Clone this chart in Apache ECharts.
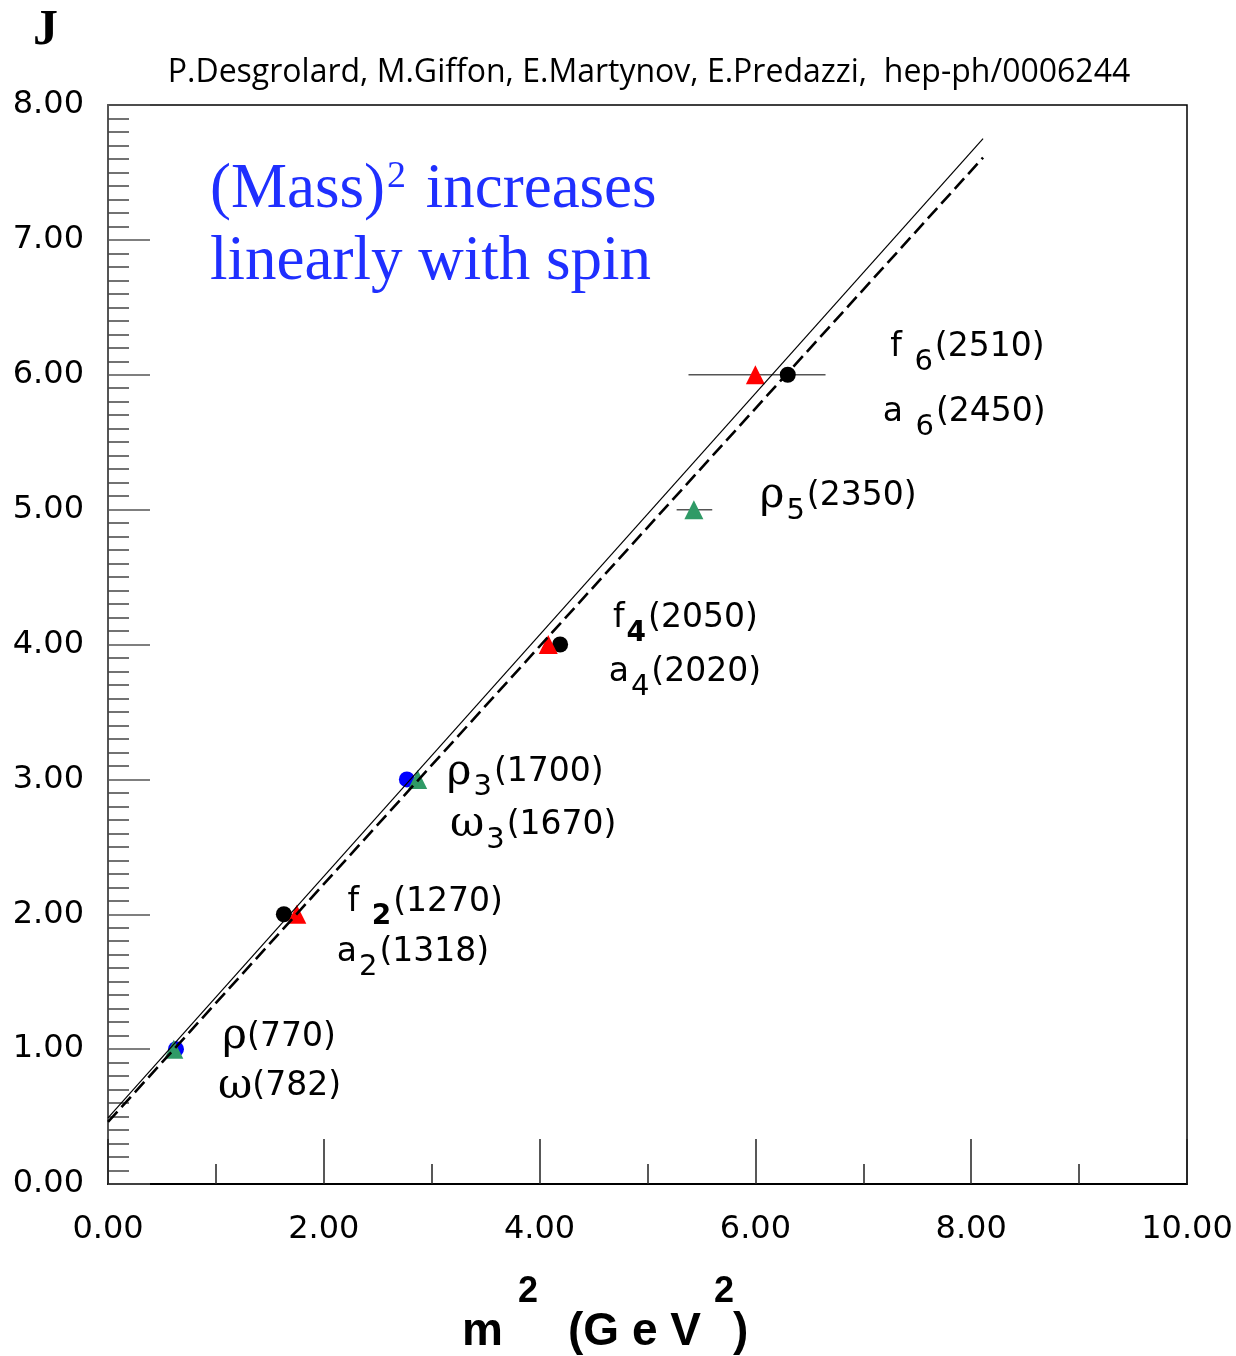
<!DOCTYPE html>
<html>
<head>
<meta charset="utf-8">
<script src="https://cdn.jsdelivr.net/npm/echarts@6/dist/echarts.min.js"></script>
<style>
  html, body { margin: 0; padding: 0; background: #fff; }
  #chart { width: 1236px; height: 1356px; }
</style>
</head>
<body>
<div id="chart"></div>
<script>
  // f mesons (black circles), a mesons (red triangles)
  var fPoints = [[1.63, 2], [4.19, 4], [6.30, 6]];
  var aPoints = [[1.75, 2], [4.08, 4], [6.00, 6]];
  // rho (green triangles), omega (blue circles)
  var rhoPoints = [[0.61, 1], [2.87, 3], [5.43, 5]];
  var omegaPoints = [[0.63, 1], [2.77, 3]];
  // horizontal error bars: [xLow, xHigh, y]
  var errorBars = [[5.27, 5.60, 5], [5.38, 6.65, 6]];
  // fitted trajectories
  var solidLine = [[0, 0.49], [8.11, 7.75]];
  var dashedLine = [[0, 0.46], [8.11, 7.61]];
  // particle labels: [x, y, rich text]
  var particleLabels = [
    [1.06, 1.09, '{g|ρ}{t|(770)}'],
    [1.02, 0.72, '{g|ω}{t|(782)}'],
    [2.22, 2.09, '{t|f }{sb|2}{t|(1270)}'],
    [2.12, 1.72, '{t|a}{s|2}{t|(1318)}'],
    [3.14, 3.05, '{g|ρ}{s|3}{t|(1700)}'],
    [3.17, 2.66, '{g|ω}{s|3}{t|(1670)}'],
    [4.68, 4.19, '{t|f}{sb|4}{t|(2050)}'],
    [4.64, 3.79, '{t|a}{s|4}{t|(2020)}'],
    [6.04, 5.10, '{g|ρ}{s|5}{t|(2350)}'],
    [7.25, 6.20, '{t|f }{s|6}{t|(2510)}'],
    [7.18, 5.72, '{t|a }{s|6}{t|(2450)}']
  ];

  var chart = echarts.init(document.getElementById('chart'));

  var labelFont = 'DejaVu Sans';

  var option = {
    backgroundColor: '#fff',
    animation: false,
    grid: {
      left: 108, top: 105, width: 1079, height: 1079,
      show: true, borderColor: '#000', borderWidth: 1.5, backgroundColor: 'transparent'
    },
    xAxis: {
      type: 'value', min: 0, max: 10, interval: 2,
      axisLine: { show: true, lineStyle: { color: '#000', width: 2 } },
      axisTick: { show: true, inside: true, length: 45, lineStyle: { color: '#222', width: 1.5 } },
      minorTick: { show: true, splitNumber: 2, length: 20, lineStyle: { color: '#222', width: 1.5 } },
      splitLine: { show: false },
      axisLabel: {
        margin: 30, fontFamily: labelFont, fontSize: 32, color: '#000',
        formatter: function (v) { return v.toFixed(2); }
      }
    },
    yAxis: {
      type: 'value', min: 0, max: 8, interval: 1,
      axisLine: { show: true, lineStyle: { color: '#555', width: 2 } },
      axisTick: { show: true, inside: true, length: 42, lineStyle: { color: '#555', width: 1.5 } },
      minorTick: { show: true, splitNumber: 10, length: 21, lineStyle: { color: '#444', width: 1.5 } },
      splitLine: { show: false },
      axisLabel: {
        margin: 24, fontFamily: labelFont, fontSize: 32, color: '#000', padding: [6, 0, 0, 0],
        formatter: function (v) { return v.toFixed(2); }
      }
    },
    series: [
      {
        type: 'custom', z: 1,
        renderItem: function (params, api) {
          var p1 = api.coord([api.value(0), api.value(2)]);
          var p2 = api.coord([api.value(1), api.value(2)]);
          return {
            type: 'line',
            shape: { x1: p1[0], y1: p1[1], x2: p2[0], y2: p2[1] },
            style: { stroke: '#555', lineWidth: 1.5 }
          };
        },
        data: errorBars
      },
      {
        type: 'scatter', z: 2, symbol: 'circle', symbolSize: 16,
        itemStyle: { color: '#0000ff', opacity: 1 }, data: omegaPoints
      },
      {
        type: 'scatter', z: 2, symbol: 'circle', symbolSize: 16,
        itemStyle: { color: '#000', opacity: 1 }, data: fPoints
      },
      {
        type: 'scatter', z: 3, symbol: 'triangle', symbolSize: 19,
        itemStyle: { color: '#2f9a66', opacity: 1 }, data: rhoPoints
      },
      {
        type: 'scatter', z: 3, symbol: 'triangle', symbolSize: 19,
        itemStyle: { color: '#ff0000', opacity: 1 }, data: aPoints
      },
      {
        type: 'line', z: 4, symbol: 'none', data: solidLine,
        lineStyle: { color: '#000', width: 1.2 }
      },
      {
        type: 'line', z: 4, symbol: 'none', data: dashedLine,
        lineStyle: { color: '#000', width: 2.6, type: [14, 6] }
      },
      {
        type: 'scatter', z: 5, symbolSize: 0, silent: true,
        itemStyle: { opacity: 1 },
        data: particleLabels.map(function (d) { return { value: [d[0], d[1]], txt: d[2] }; }),
        label: {
          show: true, position: 'inside', align: 'left', verticalAlign: 'middle', opacity: 1,
          formatter: function (p) { return p.data.txt; },
          rich: {
            t: { fontFamily: labelFont, fontSize: 33, color: '#000' },
            g: { fontFamily: 'DejaVu Serif', fontSize: 42, color: '#000' },
            s: { fontFamily: labelFont, fontSize: 29, color: '#000', padding: [30, 2, 0, 2] },
            sb: { fontFamily: labelFont, fontSize: 28, fontWeight: 'bold', color: '#000', padding: [30, 2, 0, 2] }
          }
        }
      }
    ],
    graphic: [
      {
        type: 'text', left: 33, top: 6,
        style: { text: 'J', font: 'bold 50px "Liberation Serif"', fill: '#000' }
      },
      {
        type: 'text', x: 649, y: 73,
        style: {
          text: 'P.Desgrolard, M.Giffon, E.Martynov, E.Predazzi,  hep-ph/0006244',
          font: '32px "Open Sans"', fill: '#000', align: 'center', verticalAlign: 'middle'
        }
      },
      {
        type: 'text', x: 210, y: 190,
        style: {
          text: '{b|(Mass)}{sp|2}{b| increases}',
          verticalAlign: 'middle',
          rich: {
            b: { font: '63px "Liberation Serif"', fill: '#1f2fff' },
            sp: { font: '38px "Liberation Serif"', fill: '#1f2fff', padding: [0, 4, 26, 2] }
          }
        }
      },
      {
        type: 'text', x: 210, y: 262,
        style: { text: 'linearly with spin', font: '63px "Liberation Serif"', fill: '#1f2fff', verticalAlign: 'middle' }
      },
      { type: 'text', x: 462, y: 1332, style: { text: 'm', font: 'bold 46px "Liberation Sans"', fill: '#000', verticalAlign: 'middle' } },
      { type: 'text', x: 518, y: 1292, style: { text: '2', font: 'bold 36px "Liberation Sans"', fill: '#000', verticalAlign: 'middle' } },
      { type: 'text', x: 568, y: 1332, style: { text: '(G e V', font: 'bold 46px "Liberation Sans"', fill: '#000', verticalAlign: 'middle' } },
      { type: 'text', x: 714, y: 1292, style: { text: '2', font: 'bold 36px "Liberation Sans"', fill: '#000', verticalAlign: 'middle' } },
      { type: 'text', x: 733, y: 1332, style: { text: ')', font: 'bold 46px "Liberation Sans"', fill: '#000', verticalAlign: 'middle' } }
    ]
  };

  chart.setOption(option);
</script>
</body>
</html>
